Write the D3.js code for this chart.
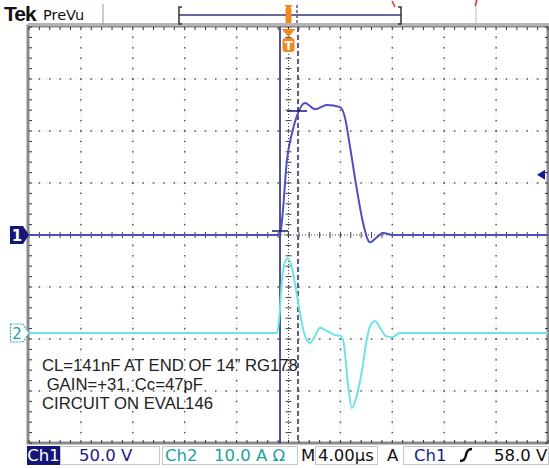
<!DOCTYPE html>
<html><head><meta charset="utf-8">
<script src="https://cdn.jsdelivr.net/npm/d3@7"></script>
<style>body{margin:0;background:#fff}svg{display:block}</style>
</head><body>
<svg id="c" width="549" height="468"></svg>
<script>
// ---- data (time in µs relative to trigger, ch1 in V, ch2 in A) ----
const ch1Time  = [-20, -0.66, -0.5, -0.12, 0.27, 0.66, 1.27, 2.04, 2.97, 3.97, 4.35, 4.74, 5.28, 5.74, 6.28, 6.82, 7.28, 8.05, 20];
const ch1Volts = [0, 0, 14, 72, 98, 115, 127, 121, 125, 123, 113, 85, 43, 12, -7, -2, 2, 0, 0];
const ch2Time  = [-20, -0.89, -0.73, -0.5, -0.27, -0.04, 0.27, 0.58, 0.89, 1.2, 1.66, 2.04, 2.43, 2.97, 3.58, 4.05, 4.28, 4.59, 4.89, 5.28, 5.67, 6.05, 6.36, 6.67, 7.05, 7.51, 7.97, 8.59, 20];
const ch2Amps  = [0, 0, 2.5, 10.2, 13.7, 14.4, 12.5, 8.3, 3.8, 0, -1.9, -0.6, 1.0, 0.4, -0.4, -0.6, -2.3, -10, -14.4, -11.9, -7.1, -1.0, 1.7, 2.3, 1.0, -0.6, -0.8, 0, 0];
const ch1VoltsPerDiv = 50, ch2AmpsPerDiv = 10;
const ch1OffsetDiv = 0, ch2OffsetDiv = -1.885;
const timeDomain = [-20, 20];
const divDomain = [-4, 4];
const notes = ["CL=141nF AT END OF 14\u201D RG178", " GAIN=+31, Cc=47pF", "CIRCUIT ON EVAL146"];
const readouts = [
  {t:"50.0 V", x:79, c:"#1c1c86"},
  {t:"Ch2", x:165, c:"#22a0a0"},
  {t:"10.0 A \u03A9", x:214, c:"#22a0a0"},
  {t:"M", x:301, c:"#111"},
  {t:"4.00\u00B5s", x:318, c:"#111"},
  {t:"A", x:387, c:"#111"},
  {t:"Ch1", x:414, c:"#1c1c86"},
  {t:"58.0 V", x:494, c:"#111"}
];

const svg = d3.select("#c");
const x = d3.scaleLinear().domain(timeDomain).range([29, 548]);
const y = d3.scaleLinear().domain(divDomain).range([443, 27]);
const L = 29, R = 548, T = 27, B = 443;
const g = svg.append("g");

// graticule grid lines (dots at minor subdivisions)
const minorX = d3.range(-20, 20.001, 0.8);
const minorY = d3.range(-4, 4.001, 0.2);
for (let k = -16; k <= 16; k += 4) {
  if (k === 0) continue;
  const xx = x(k);
  g.append("line").attr("x1", xx).attr("x2", xx).attr("y1", T).attr("y2", B)
    .attr("stroke", "#d9d9d9").attr("stroke-width", 1).attr("stroke-dasharray", "1,2");
  g.selectAll(null).data(minorY).enter().append("rect")
    .attr("x", xx - 0.75).attr("y", d => y(d) - 0.75).attr("width", 1.5).attr("height", 1.5).attr("fill", "#555");
}
for (let k = -3; k <= 3; k++) {
  if (k === 0) continue;
  const yy = y(k);
  g.append("line").attr("x1", L).attr("x2", R).attr("y1", yy).attr("y2", yy)
    .attr("stroke", "#d9d9d9").attr("stroke-width", 1).attr("stroke-dasharray", "1,2");
  g.selectAll(null).data(minorX).enter().append("rect")
    .attr("x", d => x(d) - 0.75).attr("y", yy - 0.75).attr("width", 1.5).attr("height", 1.5).attr("fill", "#555");
}
// center lines
g.append("line").attr("x1", x(0)).attr("x2", x(0)).attr("y1", T).attr("y2", B)
  .attr("stroke", "#444").attr("stroke-width", 1).attr("stroke-dasharray", "1,2");
g.selectAll(null).data(minorY).enter().append("line")
  .attr("x1", x(0) - 3).attr("x2", x(0) + 3).attr("y1", d => y(d)).attr("y2", d => y(d)).attr("stroke", "#444");
g.append("line").attr("x1", L).attr("x2", R).attr("y1", y(0)).attr("y2", y(0))
  .attr("stroke", "#444").attr("stroke-width", 1).attr("stroke-dasharray", "1,2");
g.selectAll(null).data(minorX).enter().append("line")
  .attr("y1", y(0) - 3).attr("y2", y(0) + 3).attr("x1", d => x(d)).attr("x2", d => x(d)).attr("stroke", "#444");

// frame with edge ticks
g.append("rect").attr("x", L - 1).attr("y", T - 1).attr("width", R - L + 1).attr("height", B - T + 1)
  .attr("fill", "none").attr("stroke", "#8a8a8a").attr("stroke-width", 3);
g.selectAll(null).data(minorX).enter().append("line")
  .attr("x1", d => x(d)).attr("x2", d => x(d)).attr("y1", T).attr("y2", T + 3).attr("stroke", "#333");
g.selectAll(null).data(minorX).enter().append("line")
  .attr("x1", d => x(d)).attr("x2", d => x(d)).attr("y1", B - 3).attr("y2", B).attr("stroke", "#333");
g.selectAll(null).data(minorY).enter().append("line")
  .attr("y1", d => y(d)).attr("y2", d => y(d)).attr("x1", L).attr("x2", L + 3).attr("stroke", "#333");
g.selectAll(null).data(minorY).enter().append("line")
  .attr("y1", d => y(d)).attr("y2", d => y(d)).attr("x1", R - 3).attr("x2", R).attr("stroke", "#333");

// annotation text
const tx = svg.append("g").attr("font-family", "Liberation Sans, Arial, sans-serif").attr("font-size", 16.7).attr("fill", "#222");
notes.forEach((s, i) => {
  tx.append("text").attr("x", 42).attr("y", 371 + i * 19).attr("xml:space", "preserve").style("white-space", "pre").text(s);
});

// cursors
svg.append("line").attr("x1", 280).attr("x2", 280).attr("y1", T).attr("y2", B).attr("stroke", "#1a1a70").attr("stroke-width", 1.5);
svg.append("line").attr("x1", 298).attr("x2", 298).attr("y1", T).attr("y2", B).attr("stroke", "#5a5a88").attr("stroke-width", 2).attr("stroke-dasharray", "5,3");

// traces
const line1 = d3.line().x((d, i) => x(ch1Time[i])).y(d => y(d / ch1VoltsPerDiv + ch1OffsetDiv)).curve(d3.curveMonotoneX);
const line2 = d3.line().x((d, i) => x(ch2Time[i])).y(d => y(d / ch2AmpsPerDiv + ch2OffsetDiv)).curve(d3.curveMonotoneX);
svg.append("path").attr("d", line2(ch2Amps)).attr("fill", "none").attr("stroke", "#6ee3e3").attr("stroke-width", 2);
svg.append("path").attr("d", line1(ch1Volts)).attr("fill", "none").attr("stroke", "#4f4fc0").attr("stroke-width", 2);
// cursor crosshair marks
svg.append("line").attr("x1", 272).attr("x2", 288).attr("y1", 231).attr("y2", 231).attr("stroke", "#1a1a70").attr("stroke-width", 1.5);
svg.append("line").attr("x1", 287).attr("x2", 307).attr("y1", 111).attr("y2", 111).attr("stroke", "#1a1a70").attr("stroke-width", 1.5);

// channel markers
const ym1 = y(ch1OffsetDiv), ym2 = y(ch2OffsetDiv);
svg.append("path").attr("d", `M10,${ym1-9}H23L29,${ym1}L23,${ym1+9}H10Z`).attr("fill", "#16167a");
svg.append("text").attr("x", 17).attr("y", ym1 + 5.5).attr("text-anchor", "middle").attr("fill", "#fff")
  .attr("font-family", "DejaVu Sans, sans-serif").attr("font-weight", "bold").attr("font-size", 15).text("1");
svg.append("path").attr("d", `M10.5,${ym2-9}H23L29,${ym2}L23,${ym2+9}H10.5Z`).attr("fill", "#fff").attr("stroke", "#3aaeae").attr("stroke-width", 1.2).attr("stroke-dasharray", "2,1");
svg.append("text").attr("x", 17).attr("y", ym2 + 5.5).attr("text-anchor", "middle").attr("fill", "#22a0a0")
  .attr("font-family", "DejaVu Sans, sans-serif").attr("font-size", 15).text("2");
// trigger level arrow
const yTrig = y(58 / ch1VoltsPerDiv);
svg.append("path").attr("d", `M537,${yTrig}L545,${yTrig-5}L545,${yTrig+5}Z`).attr("fill", "#1a1a90");

// trigger position marker
const xT = x(0);
svg.append("path").attr("d", `M${xT-7},29H${xT+7}L${xT},37Z`).attr("fill", "#f08a20");
svg.append("rect").attr("x", xT - 6).attr("y", 38).attr("width", 12).attr("height", 14).attr("rx", 3).attr("fill", "#f08a20");
svg.append("text").attr("x", xT).attr("y", 50).attr("text-anchor", "middle").attr("fill", "#fff")
  .attr("font-family", "DejaVu Sans, sans-serif").attr("font-weight", "bold").attr("font-size", 12).text("T");

// top bar
svg.append("rect").attr("x", 28).attr("y", 23).attr("width", 521).attr("height", 3).attr("fill", "#b5b5b5");
svg.append("text").attr("x", 4).attr("y", 21).attr("font-family", "Liberation Sans, Arial, sans-serif").attr("font-weight", "bold").attr("font-size", 21).attr("letter-spacing", -1).attr("fill", "#111").text("Tek");
svg.append("text").attr("x", 43).attr("y", 20).attr("font-family", "DejaVu Sans, sans-serif").attr("font-size", 14.5).attr("fill", "#111").text("PreVu");
svg.append("line").attr("x1", 103).attr("x2", 103).attr("y1", 4).attr("y2", 25).attr("stroke", "#999");
svg.append("line").attr("x1", 179).attr("x2", 401).attr("y1", 15).attr("y2", 15).attr("stroke", "#6868a0").attr("stroke-width", 2);
svg.append("path").attr("d", "M182,7H179V24H182").attr("fill", "none").attr("stroke", "#333").attr("stroke-width", 1.5);
svg.append("path").attr("d", "M398,7H401V24H398").attr("fill", "none").attr("stroke", "#333").attr("stroke-width", 1.5);
svg.append("rect").attr("x", xT - 3).attr("y", 8).attr("width", 6).attr("height", 15).attr("rx", 1).attr("fill", "#f08a20");
svg.append("path").attr("d", `M${xT-4},5H${xT+4}L${xT},11Z`).attr("fill", "#f08a20");
svg.append("line").attr("x1", 297).attr("x2", 297).attr("y1", 5).attr("y2", 24).attr("stroke", "#5a5a88").attr("stroke-width", 1.5).attr("stroke-dasharray", "3,2");
svg.append("line").attr("x1", 392).attr("x2", 395).attr("y1", 1).attr("y2", 7).attr("stroke", "#d33").attr("stroke-width", 1.5);
svg.append("line").attr("x1", 476).attr("x2", 476).attr("y1", 0).attr("y2", 25).attr("stroke", "#bbb").attr("stroke-width", 1);
svg.append("line").attr("x1", 477).attr("x2", 475).attr("y1", 0).attr("y2", 6).attr("stroke", "#d33").attr("stroke-width", 1.5);

// bottom readout bar
const bb = svg.append("g").attr("font-family", "DejaVu Sans, sans-serif").attr("font-size", 16.5);
[[60, 160], [162, 298], [315, 378], [403, 549]].forEach(([a, b]) => {
  bb.append("rect").attr("x", a + 0.5).attr("y", 446.5).attr("width", b - a - 1).attr("height", 18).attr("fill", "none").attr("stroke", "#c8c8c8");
});
bb.append("rect").attr("x", 27).attr("y", 446).attr("width", 33).attr("height", 19).attr("fill", "#16167a");
bb.append("text").attr("x", 43.5).attr("y", 461).attr("text-anchor", "middle").attr("fill", "#fff").text("Ch1");
readouts.forEach(r => bb.append("text").attr("x", r.x).attr("y", 461).attr("fill", r.c).text(r.t));
bb.append("path").attr("d", "M460,461 Q465,461 466,455 Q467,449 472,449").attr("fill", "none").attr("stroke", "#111").attr("stroke-width", 2.4);
</script>
</body></html>
